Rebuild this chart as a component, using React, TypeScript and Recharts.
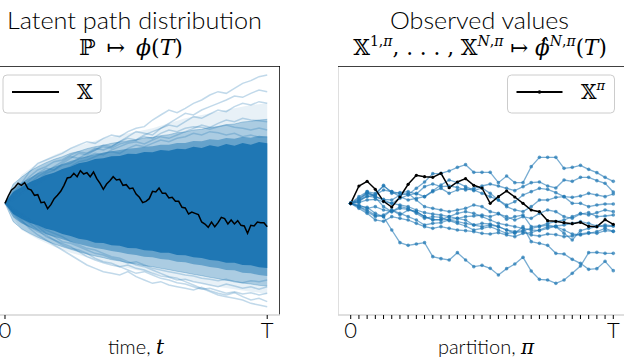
import React from "react";
import { ComposedChart, Line, Area, XAxis, YAxis, ReferenceLine } from "recharts";

const BLUE = "#1f77b4";
const SPINE_GRAY = "#d4d4d4";
const SANS = "Lato, 'Open Sans', 'DejaVu Sans', sans-serif";
const SERIF = "'DejaVu Serif', 'Liberation Serif', serif";

// ---------------- Left panel: latent path distribution ----------------
const TIME_FINE = [
  0, 2, 4, 6, 8, 10, 12, 14, 16, 18, 20, 22, 24, 26, 28, 30, 32, 34, 36, 38, 40,
  42, 44, 46, 48, 50, 52, 54, 56, 58, 60, 62, 64, 66, 68, 70, 72, 74, 76, 78, 80,
  82, 84, 86, 88, 90, 92, 94, 96, 98, 100, 102, 104, 106, 108, 110, 112, 114, 116, 118, 120,
  122, 124, 126, 128, 130, 132, 134, 136, 138, 140, 142, 144, 146, 148, 150, 152, 154, 156, 158, 160,
];
const LATENT_BLACK = [
  0, 22, 40, 48, 60, 54, 62, 44, 40, 24, 26, 2, 4, -16, -4, 14, 24, 36, 54, 76, 78,
  90, 80, 98, 88, 92, 80, 94, 74, 60, 42, 58, 68, 80, 70, 72, 54, 56, 44, 46, 28,
  18, 2, 6, 14, 36, 34, 46, 30, 30, 16, 18, 6, 6, -12, -14, -32, -26, -30, -34, -56,
  -62, -72, -56, -70, -58, -42, -46, -62, -50, -62, -52, -66, -68, -90, -66, -68, -56, -58, -58, -70,
];

const TIME_COARSE = [
  0, 5, 10, 15, 20, 25, 30, 35, 40, 45, 50, 55, 60, 65, 70, 75, 80,
  85, 90, 95, 100, 105, 110, 115, 120, 125, 130, 135, 140, 145, 150, 155, 160,
];
// density envelopes of the path cloud (dense core -> sparse fringe)
const CORE_HI = [0, 34, 48, 63, 74, 85, 92, 103, 110, 120, 125, 133, 135, 141, 142, 149, 148, 154, 153, 160, 158, 164, 162, 170, 166, 174, 170, 178, 173, 181, 176, 184, 180];
const CORE_LO = [0, -32, -46, -58, -66, -76, -82, -92, -98, -106, -110, -118, -119, -126, -127, -134, -135, -141, -142, -148, -148, -155, -156, -162, -164, -170, -172, -178, -178, -185, -186, -192, -194];
const DENSE_HI = [0, 44, 62, 76, 90, 100, 110, 118, 127, 134, 141, 147, 152, 156, 160, 164, 166, 170, 171, 176, 176, 181, 181, 187, 186, 192, 190, 196, 194, 200, 197, 203, 200];
const DENSE_LO = [0, -42, -60, -72, -82, -92, -100, -108, -115, -122, -128, -134, -138, -143, -147, -152, -155, -160, -162, -167, -169, -175, -177, -183, -186, -191, -194, -200, -201, -208, -210, -215, -218];
const SPARSE_HI = [0, 58, 78, 96, 110, 122, 132, 140, 150, 156, 164, 170, 174, 180, 184, 188, 190, 196, 198, 203, 206, 212, 214, 220, 222, 228, 230, 236, 238, 244, 246, 250, 252];
const SPARSE_LO = [0, -55, -76, -90, -102, -112, -122, -130, -138, -145, -152, -158, -163, -169, -173, -178, -182, -187, -190, -195, -199, -204, -208, -213, -217, -222, -226, -231, -234, -239, -242, -246, -248];

const TIME_BAND = [0, 10, 20, 30, 40, 50, 60, 70, 80, 90, 100, 110, 120, 130, 140, 150, 160];
const HAZE_HI = [0, 85, 120, 145, 165, 180, 195, 205, 215, 225, 240, 255, 265, 275, 285, 295, 300];
const HAZE_LO = [0, -80, -108, -130, -148, -162, -175, -188, -200, -210, -220, -230, -240, -250, -258, -265, -272];

const FAINT_U1 = [0, 30, 60, 95, 120, 130, 140, 150, 165, 175, 185, 180, 195, 205, 200, 215, 225, 230, 250, 265, 280, 272, 285, 300, 310, 325, 335, 330, 345, 360, 368, 380, 385];
const FAINT_U2 = [0, 20, 45, 70, 90, 105, 100, 120, 135, 150, 145, 160, 175, 170, 185, 200, 215, 210, 205, 225, 240, 255, 270, 265, 280, 290, 300, 310, 322, 318, 330, 340, 335];
const FAINT_U3 = [0, 25, 50, 60, 80, 95, 110, 125, 140, 135, 150, 165, 160, 170, 185, 195, 190, 205, 215, 225, 235, 230, 245, 260, 255, 268, 280, 275, 290, 300, 295, 305, 300];
const FAINT_U4 = [0, 15, 35, 55, 70, 90, 100, 115, 120, 135, 140, 150, 145, 160, 170, 180, 185, 178, 190, 200, 195, 205, 215, 225, 235, 228, 240, 250, 245, 255, 250, 248, 245];
const FAINT_U5 = [0, 30, 55, 80, 100, 110, 125, 130, 145, 155, 150, 160, 170, 165, 178, 185, 190, 200, 195, 210, 220, 215, 225, 230, 228, 222, 230, 235, 228, 225, 220, 226, 220];
const FAINT_U6 = [0, 10, 30, 45, 60, 75, 90, 100, 110, 125, 130, 140, 150, 155, 150, 165, 175, 170, 180, 190, 185, 195, 200, 210, 205, 215, 212, 205, 210, 200, 205, 198, 200];
const FAINT_L1 = [0, -25, -50, -75, -95, -110, -125, -140, -155, -170, -185, -195, -205, -210, -215, -205, -220, -230, -240, -235, -245, -250, -255, -260, -252, -262, -270, -275, -268, -280, -290, -285, -295];
const FAINT_L2 = [0, -20, -45, -60, -80, -100, -110, -120, -130, -145, -160, -170, -178, -185, -190, -200, -210, -205, -215, -225, -230, -238, -242, -250, -258, -255, -262, -270, -265, -272, -268, -275, -270];
const FAINT_L3 = [0, -30, -55, -70, -85, -95, -110, -125, -135, -140, -150, -165, -175, -180, -190, -185, -195, -200, -210, -218, -222, -230, -228, -235, -240, -245, -250, -242, -248, -255, -250, -258, -250];
const FAINT_L4 = [0, -15, -35, -50, -70, -90, -100, -115, -120, -130, -140, -150, -155, -165, -170, -180, -175, -185, -195, -200, -205, -210, -215, -218, -225, -228, -232, -228, -235, -238, -232, -235, -230];
const FAINT_L5 = [0, -20, -30, -50, -65, -80, -90, -100, -115, -125, -135, -140, -150, -160, -165, -175, -185, -190, -200, -210, -220, -225, -235, -245, -255, -265, -275, -280, -285, -290, -300, -305, -310];
const FAINT_PATHS = [FAINT_U1, FAINT_U2, FAINT_U3, FAINT_U4, FAINT_U5, FAINT_U6, FAINT_L1, FAINT_L2, FAINT_L3, FAINT_L4, FAINT_L5];

const TIME_TICKS = [0, 160];
const TIME_TICK_LABELS = ["0", "T"];

// ---------------- Right panel: observed values ----------------
const PARTITION = [0, 1, 2, 3, 4, 5, 6, 7, 8, 9, 10, 11, 12, 13, 14, 15, 16, 17, 18, 19, 20, 21, 22, 23, 24, 25, 26, 27, 28, 29, 30, 31, 32];
const OBS_BLACK = [0, 52, 66, 42, 6, -11, 19, 57, 84, 80, 78, 90, 47, 64, 74, 54, 46, 0, 20, 37, 19, 0, -20, -25, -52, -54, -58, -61, -57, -69, -70, -49, -63];
const OBS_1 = [0, 15, 30, 25, 40, 35, 30, 26, 45, 64, 89, 90, 97, 108, 116, 93, 93, 93, 62, 82, 62, 62, 110, 138, 138, 138, 105, 108, 114, 102, 92, 78, 66];
const OBS_2 = [0, 10, 20, 25, 54, 30, 32, 35, 28, 50, 58, 50, 52, 48, 40, 45, 52, 58, 52, 45, 38, 50, 62, 64, 52, 46, 70, 66, 78, 78, 68, 60, 34];
const OBS_3 = [0, 5, 30, 20, 10, 0, 15, 25, 30, 20, 35, 45, 30, 40, 45, 38, 46, 30, 10, -10, -20, -25, -10, 10, 10, 18, 20, 0, 0, -10, -5, -2, -2];
const OBS_4 = [0, -5, -15, -10, -20, -25, -15, -18, -25, -40, -50, -48, -40, -45, -40, -38, -35, -40, -32, -40, -50, -40, -45, -30, -20, -25, -40, -45, -32, -28, -40, -38, -35];
const OBS_5 = [0, -10, -25, -40, -35, -20, -30, -40, -50, -65, -60, -58, -50, -55, -60, -65, -70, -65, -70, -80, -85, -82, -75, -70, -65, -70, -80, -92, -95, -90, -85, -75, -84];
const OBS_6 = [0, -15, -30, -50, -54, -40, -45, -50, -60, -70, -75, -70, -75, -80, -82, -85, -90, -92, -88, -95, -100, -90, -88, -80, -70, -70, -90, -110, -82, -75, -70, -65, -68];
const OBS_7 = [0, -10, -20, -36, -40, -20, -35, -20, -25, -40, -48, -50, -48, -45, -50, -65, -60, -62, -70, -80, -90, -70, -115, -120, -126, -150, -152, -168, -180, -198, -196, -174, -202];
const OBS_8 = [0, -8, -12, -30, -40, -80, -118, -126, -122, -118, -160, -166, -170, -148, -170, -190, -186, -195, -215, -196, -182, -162, -203, -228, -230, -240, -230, -210, -188, -148, -147, -150, -150];
const OBS_9 = [0, 10, 35, 20, 12, 10, 25, 30, 10, -10, -15, -20, -25, -20, -15, -5, -10, -25, -30, -48, -40, -35, -70, -68, -60, -55, -50, -40, -30, -35, -28, -20, -25];
const OBS_10 = [0, 2, 10, 12, 5, 0, -5, -10, -20, -28, -32, -35, -40, -30, -25, -30, -40, -50, -60, -65, -70, -75, -80, -82, -75, -68, -65, -60, -55, -60, -68, -70, -68];
const OBS_11 = [0, 20, 35, 30, 52, 35, 20, 10, 15, 20, 38, 55, 70, 62, 50, 40, 30, 20, 10, -5, 5, 25, 35, 45, 42, 32, 20, 18, 22, 30, 25, 20, 28];
const OBS_12 = [0, 5, 22, 18, -10, -25, -10, -15, -30, -45, -40, -42, -52, -60, -68, -80, -75, -70, -80, -90, -88, -85, -95, -98, -92, -94, -100, -98, -92, -88, -90, -82, -84];
const OBS_PATHS = [OBS_1, OBS_2, OBS_3, OBS_4, OBS_5, OBS_6, OBS_7, OBS_8, OBS_9, OBS_10, OBS_11, OBS_12];

const PARTITION_LABELED = [0, 32];
const PARTITION_TICK_LABELS = ["0", "T"];

// shared vertical value range of both panels
const Y_DOMAIN: [number, number] = [-335, 412];

// ---------------- tables built from the arrays ----------------
const bandData = TIME_COARSE.map((t, i) => ({
  t,
  core: [CORE_LO[i], CORE_HI[i]],
  dense: [DENSE_LO[i], DENSE_HI[i]],
  sparse: [SPARSE_LO[i], SPARSE_HI[i]],
}));
const hazeData = TIME_BAND.map((t, i) => ({ t, haze: [HAZE_LO[i], HAZE_HI[i]] }));
const blackLatent = TIME_FINE.map((t, i) => ({ t, v: LATENT_BLACK[i] }));
const faintData = FAINT_PATHS.map((p) => TIME_COARSE.map((t, i) => ({ t, v: p[i] })));

const obsData = PARTITION.map((i) => {
  const row: Record<string, number> = { i, black: OBS_BLACK[i] };
  OBS_PATHS.forEach((p, k) => {
    row["p" + k] = p[i];
  });
  return row;
});

const makeTick = (ticks: number[], labels: string[]) => (props: any) => {
  const { x, y, payload } = props;
  const idx = ticks.indexOf(payload.value);
  const label = idx >= 0 ? labels[idx] : "";
  return (
    <text x={x} y={y} dy={17} textAnchor="middle" fontSize={22} fontFamily={SANS} fontWeight={300} fill="#000">
      {label}
    </text>
  );
};

const LEFT_X_DOMAIN: [number, number] = [-7.32, 167.8];
const RIGHT_X_DOMAIN: [number, number] = [-1.55, 33.55];

function LeftPanel() {
  return (
    <ComposedChart width={287} height={294} data={bandData} margin={{ top: 0, right: 0, bottom: 0, left: 0 }}>
      <XAxis
        dataKey="t"
        type="number"
        domain={LEFT_X_DOMAIN}
        allowDataOverflow
        ticks={TIME_TICKS}
        interval={0}
        height={45}
        tickSize={4}
        axisLine={{ stroke: SPINE_GRAY, strokeWidth: 1.5 }}
        tickLine={{ stroke: "#000", strokeWidth: 1 }}
        tick={makeTick(TIME_TICKS, TIME_TICK_LABELS)}
      />
      <YAxis hide type="number" domain={Y_DOMAIN} allowDataOverflow />
      <Area data={hazeData} dataKey="haze" stroke="none" fill={BLUE} fillOpacity={0.1} isAnimationActive={false} />
      {faintData.map((d, k) => (
        <Line
          key={k}
          data={d}
          dataKey="v"
          stroke={BLUE}
          strokeOpacity={0.28}
          strokeWidth={1.5}
          dot={false}
          isAnimationActive={false}
        />
      ))}
      <Area dataKey="sparse" stroke={BLUE} strokeOpacity={0.3} fill={BLUE} fillOpacity={0.3} isAnimationActive={false} />
      <Area dataKey="dense" stroke="none" fill={BLUE} fillOpacity={0.5} isAnimationActive={false} />
      <Area dataKey="core" stroke="none" fill={BLUE} fillOpacity={1} isAnimationActive={false} />
      <Line data={blackLatent} dataKey="v" stroke="#000" strokeWidth={1.5} dot={false} isAnimationActive={false} />
      <ReferenceLine y={Y_DOMAIN[1]} stroke="#000" strokeWidth={1.5} />
      <ReferenceLine x={LEFT_X_DOMAIN[1]} stroke="#000" strokeWidth={1.5} />
    </ComposedChart>
  );
}

function RightPanel() {
  return (
    <ComposedChart width={288} height={294} data={obsData} margin={{ top: 0, right: 0, bottom: 0, left: 0 }}>
      <XAxis
        dataKey="i"
        type="number"
        domain={RIGHT_X_DOMAIN}
        allowDataOverflow
        ticks={PARTITION}
        interval={0}
        height={45}
        tickSize={4}
        axisLine={{ stroke: SPINE_GRAY, strokeWidth: 1.5 }}
        tickLine={{ stroke: "#000", strokeWidth: 1 }}
        tick={makeTick(PARTITION_LABELED, PARTITION_TICK_LABELS)}
      />
      <YAxis hide type="number" domain={Y_DOMAIN} allowDataOverflow />
      <ReferenceLine x={RIGHT_X_DOMAIN[0]} stroke={SPINE_GRAY} strokeWidth={1.5} />
      <ReferenceLine y={Y_DOMAIN[1]} stroke="#000" strokeWidth={1.5} />
      {OBS_PATHS.map((_, k) => (
        <Line
          key={k}
          dataKey={"p" + k}
          stroke={BLUE}
          strokeOpacity={0.6}
          strokeWidth={1.3}
          dot={{ r: 1.8, fill: BLUE, fillOpacity: 0.7, stroke: "none", strokeWidth: 0 }}
          isAnimationActive={false}
        />
      ))}
      <Line
        dataKey="black"
        stroke="#000"
        strokeWidth={1.5}
        dot={{ r: 1.6, fill: "#000", stroke: "none", strokeWidth: 0 }}
        isAnimationActive={false}
      />
    </ComposedChart>
  );
}

function Overlay() {
  const sup = { fontSize: 14 };
  return (
    <svg width={624} height={358} style={{ position: "absolute", left: 0, top: 0, pointerEvents: "none" }}>
      {/* titles */}
      <text x={7} y={28.5} fontSize={24} fontWeight={300} fontFamily={SANS} textLength={255} lengthAdjust="spacingAndGlyphs">
        Latent path distribution
      </text>
      <text x={131} y={55} fontSize={22} fontFamily={SERIF} textAnchor="middle">
        ℙ{"\u2002"}↦{"\u2002"}
        <tspan fontStyle="italic">ϕ</tspan>(<tspan fontStyle="italic">T</tspan>)
      </text>
      <text x={390} y={28.5} fontSize={24} fontWeight={300} fontFamily={SANS} textLength={179} lengthAdjust="spacingAndGlyphs">
        Observed values
      </text>
      <text x={480} y={55} fontSize={21.5} fontFamily={SERIF} textAnchor="middle">
        𝕏
        <tspan dy={-9} {...sup}>
          1,<tspan fontStyle="italic">π</tspan>
        </tspan>
        <tspan dy={9}>, . . . , 𝕏</tspan>
        <tspan dy={-9} {...sup}>
          <tspan fontStyle="italic">N</tspan>,<tspan fontStyle="italic">π</tspan>
        </tspan>
        <tspan dy={9}> ↦ </tspan>
        <tspan fontStyle="italic">ϕ̂</tspan>
        <tspan dy={-9} {...sup}>
          <tspan fontStyle="italic">N</tspan>,<tspan fontStyle="italic">π</tspan>
        </tspan>
        <tspan dy={9}>(</tspan>
        <tspan fontStyle="italic">T</tspan>
        <tspan>)</tspan>
      </text>

      {/* axis labels */}
      <text x={136} y={354} fontSize={20} fontWeight={300} fontFamily={SANS} textAnchor="middle">
        time, <tspan fontFamily={SERIF} fontStyle="italic">t</tspan>
      </text>
      <text x={486} y={354} fontSize={20} fontWeight={300} fontFamily={SANS} textAnchor="middle">
        partition, <tspan fontFamily={SERIF} fontStyle="italic">π</tspan>
      </text>

      {/* legends */}
      <rect x={3} y={75} width={98} height={38} rx={4} fill="#fff" fillOpacity={0.8} stroke="#cccccc" strokeWidth={1} />
      <line x1={12} y1={92} x2={59} y2={92} stroke="#000" strokeWidth={1.8} />
      <text x={77} y={99} fontSize={20} fontFamily={SERIF}>
        𝕏
      </text>

      <rect x={507.5} y={75} width={107} height={38} rx={4} fill="#fff" fillOpacity={0.8} stroke="#cccccc" strokeWidth={1} />
      <line x1={516.5} y1={92} x2={562.5} y2={92} stroke="#000" strokeWidth={1.8} />
      <circle cx={539.5} cy={92} r={1.8} fill="#000" />
      <text x={581} y={99} fontSize={20} fontFamily={SERIF}>
        𝕏<tspan dy={-9} fontSize={13} fontStyle="italic">π</tspan>
      </text>
    </svg>
  );
}

export default function App() {
  return (
    <div
      style={{
        position: "absolute",
        left: 0,
        top: 0,
        width: 624,
        height: 358,
        overflow: "hidden",
        background: "#fff",
      }}
    >
      <div style={{ position: "absolute", left: -7, top: 66 }}>
        <LeftPanel />
      </div>
      <div style={{ position: "absolute", left: 338, top: 66 }}>
        <RightPanel />
      </div>
      <Overlay />
    </div>
  );
}
